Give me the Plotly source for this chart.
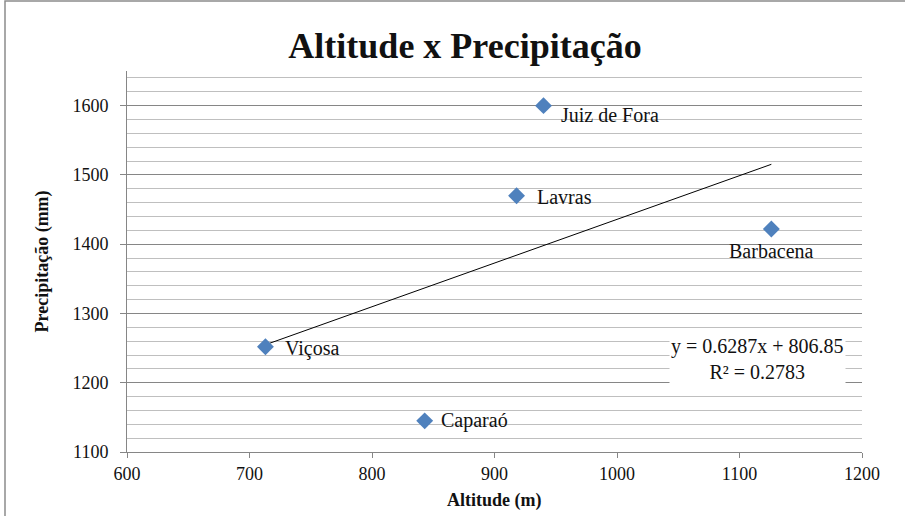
import numpy as np
import plotly.graph_objects as go

cities = ["Viçosa", "Caparaó", "Lavras", "Juiz de Fora", "Barbacena"]
altitude = [713, 843, 918, 940, 1126]
precip = [1252, 1145, 1470, 1600, 1422]
eq_text = "y = 0.6287x + 806.85<br>R² = 0.2783"

# label offsets (pixels) relative to each marker
label_dx = [18, 14, 18, 15, 0]
label_dy = [-2, 0, -1, -9, -22]
label_anchor = ["left", "left", "left", "left", "center"]

slope, intercept = np.polyfit(altitude, precip, 1)
tx = [min(altitude), max(altitude)]
ty = [slope * v + intercept for v in tx]

SERIF = "Liberation Serif, Times New Roman, serif"
FW, FH = 905, 516
L, T = 127, 71
W, H = 735, 381
R, B = FW - L - W, FH - T - H

def px_x(p):
    return (p - L) / W

def px_y(p):
    return (T + H - p) / H

fig = go.Figure()
fig.add_trace(go.Scatter(
    x=tx, y=ty, mode="lines",
    line=dict(color="black", width=1),
    hoverinfo="skip", showlegend=False))
fig.add_trace(go.Scatter(
    x=altitude, y=precip, mode="markers",
    marker=dict(symbol="diamond", size=13, color="#4F81BD"),
    showlegend=False))

for c, xv, yv, dx, dy, anc in zip(cities, altitude, precip, label_dx, label_dy, label_anchor):
    fig.add_annotation(x=xv, y=yv, xref="x", yref="y", text=c, showarrow=False,
                       xanchor=anc, yanchor="middle", xshift=dx, yshift=dy,
                       font=dict(family=SERIF, size=20, color="#111"))

fig.add_annotation(
    x=1115, y=1234, xref="x", yref="y", text=eq_text, showarrow=False,
    font=dict(family=SERIF, size=20, color="#111"), align="center",
    bgcolor="white", borderpad=1)

fig.add_annotation(x=px_x(494), y=px_y(500), xref="paper", yref="paper",
                   text="<b>Altitude (m)</b>", showarrow=False,
                   xanchor="center", yanchor="middle",
                   font=dict(family=SERIF, size=18, color="#111"))
fig.add_annotation(x=px_x(42), y=0.5, xref="paper", yref="paper",
                   text="<b>Precipitação (mm)</b>", showarrow=False, textangle=-90,
                   xanchor="center", yanchor="middle",
                   font=dict(family=SERIF, size=18, color="#111"))

fig.add_shape(type="rect", xref="paper", yref="paper",
              x0=px_x(5), x1=px_x(915), y0=px_y(525), y1=px_y(1),
              line=dict(color="#8c8c8c", width=1.5), layer="above")

fig.update_layout(
    width=FW, height=FH,
    margin=dict(l=L, r=R, t=T, b=B, autoexpand=False),
    paper_bgcolor="white", plot_bgcolor="white",
    font=dict(family=SERIF, color="#111"),
    title=dict(text="<b>Altitude x Precipitação</b>",
               x=465 / FW, xref="container", xanchor="center",
               y=1 - 45 / FH, yref="container", yanchor="middle",
               font=dict(family=SERIF, size=36, color="#111")),
    xaxis=dict(range=[600, 1200], dtick=100, showgrid=False, zeroline=False,
               automargin=False,
               showline=True, linecolor="#868686", linewidth=1,
               ticks="outside", ticklen=5, tickcolor="#868686",
               tickfont=dict(family=SERIF, size=18, color="#111")),
    yaxis=dict(range=[1100, 1650], dtick=100, tick0=1100, automargin=False,
               showgrid=True, gridcolor="#868686", gridwidth=1,
               minor=dict(dtick=20, showgrid=True, gridcolor="#bfbfbf", gridwidth=1),
               zeroline=False, showline=True, linecolor="#868686", linewidth=1,
               ticks="outside", ticklen=6, tickcolor="#868686",
               ticklabelstandoff=8,
               tickfont=dict(family=SERIF, size=18, color="#111")),
)

fig.write_html("out.html", config={"displayModeBar": False},
               post_script="document.body.style.margin='0';document.body.style.overflow='hidden';")
